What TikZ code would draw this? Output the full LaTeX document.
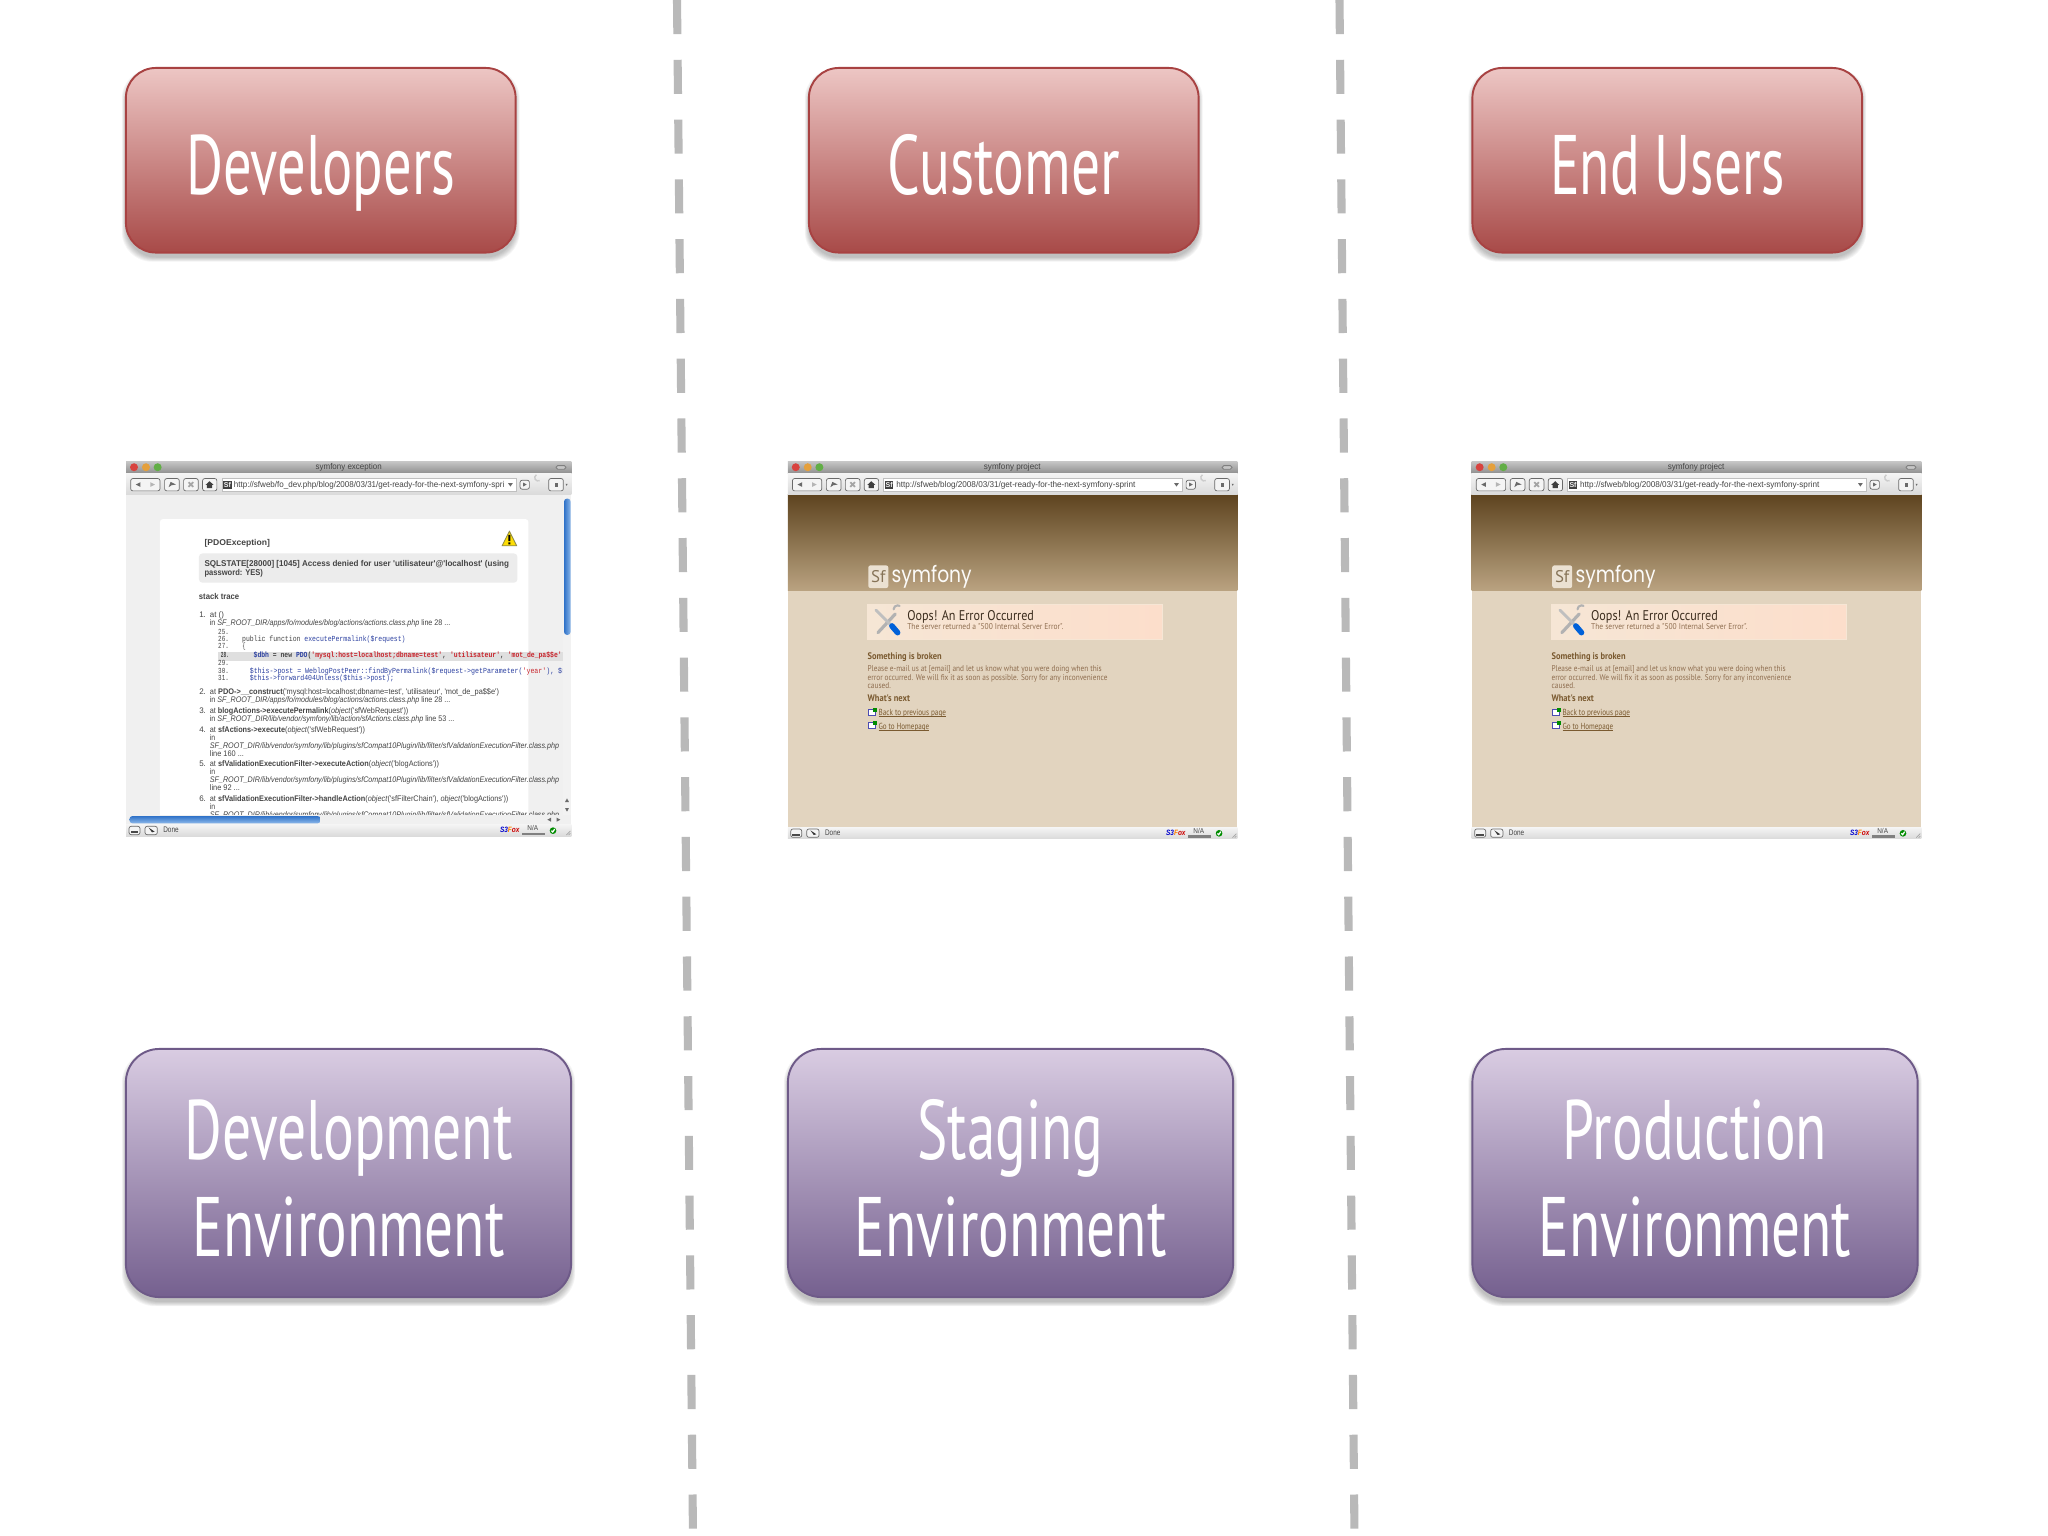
\documentclass[tikz,border=0pt]{standalone}
\usepackage{fontspec}
\usepackage{graphicx}
\usetikzlibrary{calc}
\newfontfamily\bigf{PT Sans}
\newfontfamily\pgf{Liberation Sans}
\newfontfamily\errf{PT Sans}
\newfontfamily\codef{Liberation Mono}
\newfontfamily\logof{Poppins}
\newdimen\zp \zp=0.09485pt
\newdimen\pxu \pxu=0.28453pt
\definecolor{redT}{HTML}{EDC6C4}\definecolor{redB}{HTML}{A84A48}\definecolor{redL}{HTML}{A84242}
\definecolor{purT}{HTML}{D9CCE2}\definecolor{purB}{HTML}{75608F}\definecolor{purL}{HTML}{6E5A88}
\definecolor{dashc}{HTML}{B9B9B9}
\definecolor{barT}{HTML}{C6C6C6}\definecolor{barB}{HTML}{8E8E8E}
\definecolor{toolT}{HTML}{F4F4F4}\definecolor{toolB}{HTML}{DADADA}
\definecolor{btn}{HTML}{6A6A6A}
\definecolor{scrT}{HTML}{8DB8EA}\definecolor{scrB}{HTML}{2F72C8}
\definecolor{txtg}{HTML}{444444}\definecolor{codeb}{HTML}{2A3FA0}\definecolor{coder}{HTML}{C8242C}
\definecolor{brT}{HTML}{5E441F}\definecolor{brB}{HTML}{BAA381}\definecolor{brBg}{HTML}{E2D4BF}
\definecolor{banL}{HTML}{F6E6D5}\definecolor{banR}{HTML}{FCDECB}
\definecolor{hd}{HTML}{7A5A30}\definecolor{bd}{HTML}{8F6E50}\definecolor{ink}{HTML}{3C2D1E}
\definecolor{tlR}{HTML}{D8433F}\definecolor{tlO}{HTML}{E5A03C}\definecolor{tlG}{HTML}{62AE46}
\tikzset{
  redbox/.style={draw=redL,line width=.55pt,rounded corners=8.5pt,top color=redT,bottom color=redB,text=white,inner sep=0pt,font=\bigf\fontsize{24}{27.6}\selectfont,align=center,text height=19.4pt,text depth=0pt,minimum width=3.895cm,minimum height=1.845cm},
  purbox/.style={draw=purL,line width=.55pt,rounded corners=9.5pt,top color=purT,bottom color=purB,text=white,inner sep=0pt,font=\bigf\fontsize{24}{27.6}\selectfont,align=center,minimum width=4.45cm,minimum height=2.48cm},
  sepline/.style={dashc,line width=2.3pt,dash pattern=on 9.7pt off 7.3pt},
  txt/.style={anchor=base west,inner sep=0pt,outer sep=0pt},
  btnbox/.style={draw=btn,line width=.2pt,fill=toolT,rounded corners=.6pt},
}
\newcommand\bw[2]{\resizebox{#1\pxu}{\height}{#2}}
\newcommand\softshadow[5]{\foreach \i in {0,...,6}{\fill[black,opacity=.04,rounded corners=#5] ({#1-\i*.7},{#2+5-\i*.7}) rectangle ({#3+\i*.7},{#4+5+\i*.7});}}
\def\pfx{a}
\newsavebox\ulbox
\newcommand\myul[1]{\sbox\ulbox{#1}\rlap{\rule[-.3pt]{\wd\ulbox}{.13pt}}\usebox\ulbox}
\newcommand\tw[6]{\node[txt] (\pfx#1) at (#2,#3) {\resizebox{#4\zp}{\height}{#5 #6}};}
\newcommand\pg{\pgf\fontsize{2.3}{3}\selectfont\color{txtg}}
\newcommand\pgb{\pgf\bfseries\fontsize{2.4}{3}\selectfont\color{txtg}}
\newcommand\cd{\codef\fontsize{2.2}{3}\selectfont\color{txtg}}
% browser chrome: local origin at window's top left
\newcommand\chrome[5]{%
  \def\W{#1}\def\H{#2}%
  \shade[top color=barT,bottom color=barB] (0,0) rectangle (\W,37);
  \shade[top color=toolT,bottom color=toolB] (0,37) rectangle (\W,100);
  \shade[top color=toolT,bottom color=toolB] (0,{\H-35}) rectangle (\W,\H);
  \fill[tlR] (24,18) circle (12);
  \fill[tlO] (60,18) circle (12);
  \fill[tlG] (95,18) circle (12);
  \draw[gray,fill=barT,line width=.25pt,rounded corners=.5pt] ({\W-46},13) rectangle ({\W-16},24);
  \node[txt,anchor=base] (\pfx title) at ({\W/2+(#5)},24) {\resizebox{#4\zp}{\height}{\pgf\fontsize{2.4}{3}\selectfont\color{txtg}#3}};
  \draw[btnbox] (14,52) rectangle (102,89);
  \fill[btn] (29,70) -- (43,63) -- (43,77) -- cycle;
  \fill[btn!50] (87,70) -- (73,63) -- (73,77) -- cycle;
  \draw[btnbox] (116,52) rectangle (160,89);
  \fill[btn] (128,78) -- (134,62) -- (150,70) -- (137,72) -- cycle;
  \draw[btnbox] (173,52) rectangle (217,89);
  \draw[btn!60,line width=.5pt] (188,63) -- (202,77) (202,63) -- (188,77);
  \draw[btnbox] (230,52) rectangle (273,89);
  \fill[btn!60!black] (251,60) -- (263,71) -- (259,71) -- (259,81) -- (243,81) -- (243,71) -- (239,71) -- cycle;
  \draw[draw=gray!50,fill=white,line width=.2pt] (288,52) rectangle ({\W-166},89);
  \fill[black!75] (292,58) rectangle (317,83);
  \node[text=toolT,inner sep=0pt,font=\pgf\bfseries\fontsize{2}{2}\selectfont] (\pfx fav) at (304.5,70.5) {Sf};
  \fill[btn] ({\W-190},66) -- ({\W-176},66) -- ({\W-183},76) -- cycle;
  \draw[btnbox] ({\W-154},57) rectangle ({\W-126},84);
  \fill[btn] ({\W-145},64) -- ({\W-134},70) -- ({\W-145},76) -- cycle;
  \draw[gray!40,line width=.4pt] ({\W-95},58) arc (60:240:10);
  \draw[btnbox] ({\W-68},52) rectangle ({\W-24},89);
  \fill[btn] ({\W-50},64) rectangle ({\W-40},78);
  \fill[btn] ({\W-17},68) -- ({\W-11},68) -- ({\W-14},74) -- cycle;
  \draw[btnbox] (9,{\H-30}) rectangle (42,{\H-5});
  \draw[btnbox] (57,{\H-30}) rectangle (94,{\H-5});
  \fill[btn!50!black] (68,{\H-26}) -- (86,{\H-14}) -- (78,{\H-12}) -- cycle;
  \fill[btn!70!black] (14,{\H-16}) rectangle (36,{\H-9});
  \node[txt] (\pfx done) at (112,{\H-11}) {\resizebox{46\zp}{\height}{\pgf\fontsize{2.3}{3}\selectfont\color{txtg}Done}};
  \node[txt] (\pfx fox) at ({\W-214},{\H-11}) {\resizebox{58\zp}{\height}{\pgf\bfseries\itshape\fontsize{2.2}{3}\selectfont\textcolor{blue!80!black}{S3}\textcolor{orange}{F}\textcolor{red!80!black}{ox}}};
  \node[txt,anchor=base] (\pfx na) at ({\W-116},{\H-16}) {\resizebox{32\zp}{\height}{\pgf\fontsize{2}{3}\selectfont\color{txtg}N/A}};
  \draw[gray,line width=.3pt] ({\W-146},{\H-9}) rectangle ({\W-81},{\H-6});
  \fill[green!55!black] ({\W-55},{\H-17}) circle (10);
  \draw[white,line width=.35pt] ({\W-60},{\H-17}) -- ({\W-56},{\H-13}) -- ({\W-50},{\H-22});
  \draw[gray!70,line width=.2pt] ({\W-15},{\H-4}) -- ({\W-3},{\H-16}) ({\W-8},{\H-4}) -- ({\W-3},{\H-9});
}
% error page, zoom-crop coordinates
\newcommand\errorpage{%
  \fill[brBg] (22,133) rectangle (1373,1140);
  \shade[top color=brT,bottom color=brB] (22,133) rectangle (1373,422);
  \fill[brBg!70!white,rounded corners=.6pt] (264,346) rectangle (324,414);
  \node[text=brT!75,inner sep=0pt,font=\errf\fontsize{4.8}{5}\selectfont] (\pfx sf) at (294,380) {Sf};
  \node[txt] (\pfx logo) at (334,397) {\resizebox{240\zp}{\height}{\logof\fontsize{6.4}{7}\selectfont\color{white!90!brBg}symfony}};
  \shade[left color=banL,right color=banR,draw=banL,line width=.2pt] (262,462) rectangle (1149,569);
  \draw[gray!60,line width=.9pt,line cap=round] (345,492) -- (293,548);
  \draw[gray!60,line width=.6pt,line cap=round] (340,478) arc (180:300:12);
  \draw[gray!50,line width=.8pt,line cap=round] (287,480) -- (332,525);
  \draw[blue!55!cyan!85!black,line width=1.6pt,line cap=round] (335,528) -- (352,548);
  \tw{oops}{381}{513}{380}{\errf\fontsize{4}{5}\selectfont\color{ink}}{Oops! An Error Occurred}
  \tw{srv}{381}{540}{468}{\errf\fontsize{2.4}{3}\selectfont\color{bd}}{The server returned a "500 Internal Server Error".}
  \tw{sib}{262}{630}{222}{\errf\bfseries\fontsize{2.7}{3}\selectfont\color{hd}}{Something is broken}
  \tw{p1}{262}{665}{702}{\errf\fontsize{2.4}{3}\selectfont\color{bd}}{Please e-mail us at [email] and let us know what you were doing when this}
  \tw{p2}{262}{691}{719}{\errf\fontsize{2.4}{3}\selectfont\color{bd}}{error occurred. We will fix it as soon as possible. Sorry for any inconvenience}
  \tw{p3}{262}{717}{70}{\errf\fontsize{2.4}{3}\selectfont\color{bd}}{caused.}
  \tw{wn}{262}{755}{127}{\errf\bfseries\fontsize{2.7}{3}\selectfont\color{hd}}{What's next}
  \foreach \yy in {0,40}{
    \draw[blue!40!gray,fill=white,line width=.2pt] (263,{779+\yy}) rectangle (286,{796+\yy});
    \fill[green!55!black] (277,{773+\yy}) rectangle (289,{787+\yy});
  }
  \tw{l1}{295}{798}{202}{\errf\fontsize{2.5}{3}\selectfont\color{hd}}{\myul{Back to previous page}}
  \tw{l2}{295}{838}{152}{\errf\fontsize{2.5}{3}\selectfont\color{hd}}{\myul{Go to Homepage}}
  \begin{scope}[shift={(22,33)}]
    \chrome{1351}{1135}{symfony project}{170}{-1}{0}
    \node[txt] (\pfx url) at (326,78) {\resizebox{717\zp}{\height}{\pgf\fontsize{2.4}{3}\selectfont\color{txtg}http://sfweb/blog/2008/03/31/get-ready-for-the-next-symfony-sprint}};
  \end{scope}
}
\begin{document}
\begin{tikzpicture}[x=0.01cm,y=-0.01cm]
\useasboundingbox (0,0) rectangle (2048,1536);
% separators
\coordinate (s1a) at (677,0); \coordinate (s1b) at (693,1536);
\coordinate (s2a) at (1339.5,0); \coordinate (s2b) at (1354.5,1536);
\draw[sepline] (s1a) -- (s1b);
\draw[sepline] (s2a) -- (s2b);
% red boxes
\softshadow{126}{68}{515.5}{252.5}{8.5pt}
\softshadow{809}{68}{1198.5}{252.5}{8.5pt}
\softshadow{1472.5}{68}{1862}{252.5}{8.5pt}
\node[redbox] (dev) at (320.75,160.25) {\bw{269}{Developers}};
\node[redbox] (cust) at (1003.75,160.25) {\bw{232}{Customer}};
\node[redbox] (end) at (1667.25,160.25) {\bw{234}{End Users}};
% purple boxes
\softshadow{126}{1049}{571}{1297}{9.5pt}
\softshadow{788}{1049}{1233}{1297}{9.5pt}
\softshadow{1472.5}{1049}{1917.5}{1297}{9.5pt}
\node[purbox] (denv) at (348.5,1173) {\rule{0pt}{20pt}\bw{328}{Development}\\\bw{312}{Environment}};
\node[purbox] (senv) at (1010.5,1173) {\rule{0pt}{20pt}\bw{186}{Staging}\\\bw{312}{Environment}};
\node[purbox] (penv) at (1695,1173) {\rule{0pt}{20pt}\bw{264}{Production}\\\bw{312}{Environment}};
% development screenshot
\begin{scope}[shift={(1.10cm,-4.50cm)},x=0.003333cm,y=-0.003333cm]
\def\pfx{d}
\fill[gray!12] (48,133) rectangle (1386,1100);
\fill[white,rounded corners=.8pt] (150,207) rectangle (1257,1110);
\tw{exc}{284}{285}{196}{\pgb}{[PDOException]}
\draw[black!50!yellow,fill=yellow!80!orange,line width=.25pt,line join=round] (1200,243) -- (1178,287) -- (1222,287) -- cycle;
\fill[black] (1197,254) rectangle (1203,273) (1197,277) rectangle (1203,283);
\fill[gray!15,rounded corners=1pt] (267,310) rectangle (1224,398);
\tw{sq1}{284}{349}{913}{\pgb}{SQLSTATE[28000] [1045] Access denied for user 'utilisateur'@'localhost' (using}
\tw{sq2}{284}{377}{175}{\pgb}{password: YES)}
\tw{st}{267}{449}{121}{\pgb}{stack trace}
\tw{n1}{268}{503}{20}{\pg}{1.}
\tw{a1}{300}{503}{42}{\pg}{at ()}
\tw{b1}{300}{527}{721}{\pg}{in \textit{SF\_ROOT\_DIR/apps/fo/modules/blog/actions/actions.class.php} line 28 ...}
\fill[gray!25] (325,605) rectangle (1362,632);
\tw{c25}{325}{553}{32}{\cd}{25.}
\tw{c26}{325}{575}{32}{\cd}{26.}
\tw{t26}{397}{575}{490}{\cd}{public function \textcolor{codeb}{executePermalink(\$request)}}
\tw{c27}{325}{597}{32}{\cd}{27.}
\tw{t27}{397}{597}{10}{\cd}{\{}
\tw{c28}{325}{623}{32}{\cd\bfseries}{28.}
\tw{t28}{420}{623}{935}{\cd\bfseries}{\textcolor{codeb}{\$dbh} = new \textcolor{codeb}{PDO}(\textcolor{coder}{'mysql:host=localhost;dbname=test'}, \textcolor{coder}{'utilisateur'}, \textcolor{coder}{'mot\_de\_pa\$\$e'}}
\tw{c29}{325}{648}{32}{\cd}{29.}
\tw{c30}{325}{670}{32}{\cd}{30.}
\tw{t30}{420}{670}{960}{\cd}{\textcolor{codeb}{\$this->post = WeblogPostPeer::findByPermalink(\$request->getParameter(}\textcolor{coder}{'year'}\textcolor{codeb}{), \$re}}
\tw{c31}{325}{692}{32}{\cd}{31.}
\tw{t31}{420}{692}{432}{\cd}{\textcolor{codeb}{\$this->forward404Unless(\$this->post);}}
\tw{n2}{268}{735}{20}{\pg}{2.}
\tw{a2}{300}{735}{867}{\pg}{at \textbf{PDO->\_\_construct}('mysql:host=localhost;dbname=test', 'utilisateur', 'mot\_de\_pa\$\$e')}
\tw{b2}{300}{758}{721}{\pg}{in \textit{SF\_ROOT\_DIR/apps/fo/modules/blog/actions/actions.class.php} line 28 ...}
\tw{n3}{268}{791}{20}{\pg}{3.}
\tw{a3}{300}{791}{595}{\pg}{at \textbf{blogActions->executePermalink}(\textit{object}('sfWebRequest'))}
\tw{b3}{300}{815}{733}{\pg}{in \textit{SF\_ROOT\_DIR/lib/vendor/symfony/lib/action/sfActions.class.php} line 53 ...}
\tw{n4}{268}{847}{20}{\pg}{4.}
\tw{a4}{300}{847}{465}{\pg}{at \textbf{sfActions->execute}(\textit{object}('sfWebRequest'))}
\tw{b4}{300}{871}{16}{\pg}{in}
\tw{e4}{300}{895}{1047}{\pg}{\textit{SF\_ROOT\_DIR/lib/vendor/symfony/lib/plugins/sfCompat10Plugin/lib/filter/sfValidationExecutionFilter.class.php}}
\tw{f4}{300}{919}{102}{\pg}{line 160 ...}
\tw{n5}{268}{951}{20}{\pg}{5.}
\tw{a5}{300}{951}{687}{\pg}{at \textbf{sfValidationExecutionFilter->executeAction}(\textit{object}('blogActions'))}
\tw{b5}{300}{975}{16}{\pg}{in}
\tw{e5}{300}{998}{1047}{\pg}{\textit{SF\_ROOT\_DIR/lib/vendor/symfony/lib/plugins/sfCompat10Plugin/lib/filter/sfValidationExecutionFilter.class.php}}
\tw{f5}{300}{1022}{90}{\pg}{line 92 ...}
\tw{n6}{268}{1054}{20}{\pg}{6.}
\tw{a6}{300}{1054}{895}{\pg}{at \textbf{sfValidationExecutionFilter->handleAction}(\textit{object}('sfFilterChain'), \textit{object}('blogActions'))}
\tw{b6}{300}{1078}{16}{\pg}{in}
\tw{e6}{300}{1102}{1047}{\pg}{\textit{SF\_ROOT\_DIR/lib/vendor/symfony/lib/plugins/sfCompat10Plugin/lib/filter/sfValidationExecutionFilter.class.php}}
% scrollbars
\fill[gray!10] (1362,133) rectangle (1386,1095);
\shade[left color=scrB,right color=scrT,rounded corners=.9pt] (1364,145) rectangle (1384,555);
\fill[btn] (1373,1046) -- (1367,1057) -- (1379,1057) -- cycle;
\fill[btn] (1373,1086) -- (1367,1075) -- (1379,1075) -- cycle;
\fill[gray!12] (48,1095) rectangle (1386,1125);
\shade[top color=scrB,bottom color=scrT,rounded corners=.9pt] (58,1099) rectangle (633,1121);
\fill[btn] (1314,1110) -- (1325,1104) -- (1325,1116) -- cycle;
\fill[btn] (1353,1110) -- (1342,1104) -- (1342,1116) -- cycle;
\begin{scope}[shift={(48,33)}]
  \chrome{1338}{1127}{symfony exception}{198}{0}{0}
  \node[txt] (durl) at (324,78) {\resizebox{811\zp}{\height}{\pgf\fontsize{2.4}{3}\selectfont\color{txtg}http://sfweb/fo\_dev.php/blog/2008/03/31/get-ready-for-the-next-symfony-spri}};
\end{scope}
\end{scope}
% staging screenshot
\begin{scope}[shift={(7.80cm,-4.50cm)},x=0.003333cm,y=-0.003333cm]
\def\pfx{s}
\errorpage
\end{scope}
% production screenshot
\begin{scope}[shift={(14.635cm,-4.50cm)},x=0.003333cm,y=-0.003333cm]
\def\pfx{p}
\errorpage
\end{scope}
\end{tikzpicture}
\end{document}
